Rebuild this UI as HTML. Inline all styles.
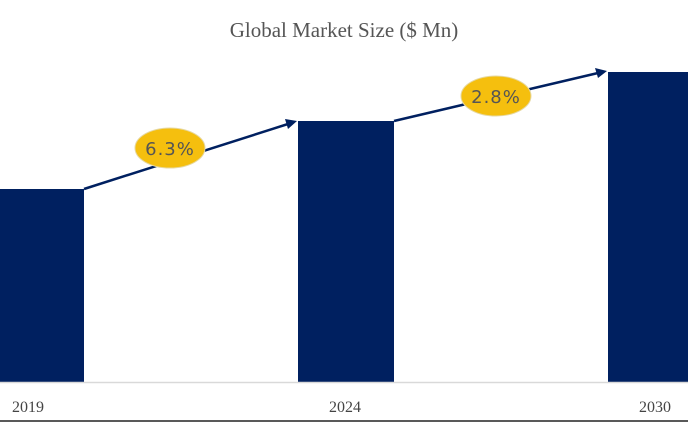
<!DOCTYPE html>
<html><head><style>body{margin:0;background:#fff}</style></head><body>
<svg width="688" height="424" xmlns="http://www.w3.org/2000/svg">
<text x="344" y="37" text-anchor="middle" font-family="Liberation Serif, serif" font-size="21" fill="#555">Global Market Size ($ Mn)</text>
<rect x="0" y="189" width="84" height="193" fill="#002060"/>
<rect x="298" y="121" width="96" height="261" fill="#002060"/>
<rect x="608" y="72" width="80" height="310" fill="#002060"/>
<line x1="0" y1="382.5" x2="688" y2="382.5" stroke="#d9d9d9" stroke-width="1.5"/>
<line x1="0" y1="421" x2="688" y2="421" stroke="#222" stroke-width="1.5"/>
<g stroke="#002060" stroke-width="2.5">
<line x1="84" y1="189" x2="288" y2="124"/>
<line x1="394" y1="121" x2="598" y2="73"/>
</g>
<polygon points="297,121 285,119 288,129" fill="#002060"/>
<polygon points="607,71 595,68 598,78" fill="#002060"/>
<ellipse cx="170" cy="148" rx="35" ry="20" fill="#f5bf0e" stroke="#e6d8a0"/>
<ellipse cx="496" cy="96" rx="35" ry="20" fill="#f5bf0e" stroke="#e6d8a0"/>
<text x="170" y="155" text-anchor="middle" font-family="DejaVu Sans, sans-serif" font-size="18" fill="#555" letter-spacing="1">6.3%</text>
<text x="496" y="103" text-anchor="middle" font-family="DejaVu Sans, sans-serif" font-size="18" fill="#555" letter-spacing="1">2.8%</text>
<g font-family="Liberation Serif, serif" font-size="16" fill="#444" text-anchor="middle">
<text x="28" y="412">2019</text>
<text x="345" y="412">2024</text>
<text x="655" y="412">2030</text>
</g>
</svg>
</body></html>
